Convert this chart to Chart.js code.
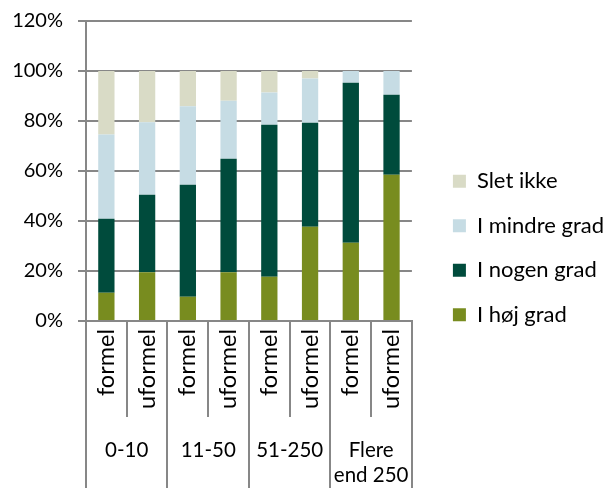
<!DOCTYPE html>
<html>
<head>
<meta charset="utf-8">
<script src="https://cdn.jsdelivr.net/npm/chart.js@4"></script>
<style>
    html, body { margin: 0; padding: 0; background: #fff; }
    #wrap { width: 606px; height: 488px; }
</style>
</head>
<body>
<div id="wrap"><canvas id="chart"></canvas></div>
<script>
// bar labels and the size groups under them
const subLabels = ['formel', 'uformel', 'formel', 'uformel', 'formel', 'uformel', 'formel', 'uformel'];
const groupLabels = ['0-10', '11-50', '51-250', ['Flere', 'end 250']];

// shares in percent
const hojGrad    = [11.3, 19.5,  9.7, 19.5, 17.7, 37.7, 31.3, 58.5];
const nogenGrad  = [29.6, 31.0, 44.8, 45.4, 60.8, 41.6, 64.0, 32.0];
const mindreGrad = [33.7, 29.0, 31.4, 23.2, 12.9, 17.7,  4.7,  9.5];
const sletIkke   = [25.4, 20.5, 14.1, 11.9,  8.6,  3.0,  0.0,  0.0];

const yTicks = [0, 20, 40, 60, 80, 100, 120];

const gridColor = '#878787';
const textColor = '#000000';
const fontFamily = 'Lato';

const bar = (label, data, color) => ({
    label: label,
    data: data,
    backgroundColor: color,
    borderWidth: 0,
    barPercentage: 0.4,
    categoryPercentage: 1.0
});

new Chart(document.getElementById('chart').getContext('2d'), {
    type: 'bar',
    data: {
        labels: subLabels,
        datasets: [
            bar('I høj grad', hojGrad, '#788C1F'),
            bar('I nogen grad', nogenGrad, '#004B3C'),
            bar('I mindre grad', mindreGrad, '#C6DCE4'),
            bar('Slet ikke', sletIkke, '#D9DBC6')
        ]
    },
    options: {
        responsive: true,
        maintainAspectRatio: false,
        animation: false,
        layout: { padding: { top: 8, right: -8, left: 0, bottom: 0 } },
        plugins: {
            tooltip: { enabled: false },
            legend: {
                position: 'right',
                reverse: true,
                maxWidth: 260,
                labels: {
                    boxWidth: 13,
                    boxHeight: 13,
                    padding: 22.5,
                    color: textColor,
                    font: { family: fontFamily, size: 22 }
                }
            }
        },
        scales: {
            x: {
                stacked: true,
                position: 'bottom',
                offset: true,
                grid: { offset: true, drawOnChartArea: false, color: gridColor, lineWidth: 2, tickLength: 96 },
                border: { color: gridColor, width: 2 },
                ticks: { minRotation: 90, maxRotation: 90, autoSkip: false, padding: -88, color: textColor, font: { family: fontFamily, size: 23.5 } },
                afterFit: (scale) => { scale.height = 96; }
            },
            x2: {
                type: 'category',
                labels: groupLabels,
                position: 'bottom',
                offset: true,
                grid: { offset: true, drawOnChartArea: false, color: gridColor, lineWidth: 2, tickLength: 71 },
                border: { display: false },
                ticks: { maxRotation: 0, autoSkip: false, padding: -50, color: textColor, font: { family: fontFamily, size: 20.5 } },
                afterFit: (scale) => { scale.height = 71; }
            },
            y: {
                stacked: true,
                min: yTicks[0],
                max: yTicks[yTicks.length - 1],
                grid: { color: gridColor, lineWidth: 2, tickLength: 8 },
                border: { color: gridColor, width: 2 },
                ticks: {
                    stepSize: 20,
                    padding: 15,
                    color: textColor,
                    font: { family: fontFamily, size: 20 },
                    callback: (v) => v + '%'
                },
                afterFit: (scale) => {
                    scale.width = 86;
                    scale.paddingTop = 21;
                    scale.paddingBottom = 0;
                }
            },
            // empty spacer between the plot and the legend
            gap: {
                type: 'linear',
                position: 'right',
                grid: { display: false },
                border: { display: false },
                ticks: { display: false },
                afterFit: (scale) => { scale.width = 18.5; }
            }
        }
    }
});
</script>
</body>
</html>
